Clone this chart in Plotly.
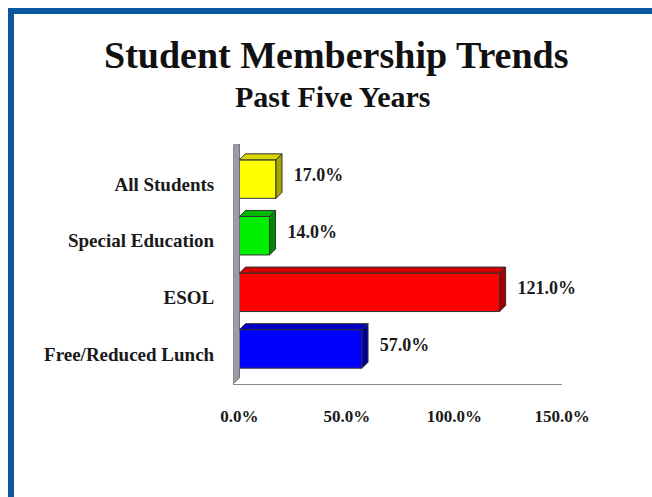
import plotly.graph_objects as go

# ---- data ----
categories = ["All Students", "Special Education", "ESOL", "Free/Reduced Lunch"]
values = [17.0, 14.0, 121.0, 57.0]
front_colors = ["#FFFF00", "#00EE00", "#FF0000", "#0000FF"]
top_colors = ["#D8D800", "#00B800", "#D00000", "#0000C8"]
side_colors = ["#A8A800", "#008800", "#A00000", "#000098"]
x_ticks = [0, 50, 100, 150]
x_tick_labels = ["0.0%", "50.0%", "100.0%", "150.0%"]

# ---- geometry (pixels) ----
W, H = 652, 497
L_PX, R_PX, T_PX, B_PX = 233, 562, 144, 384
X0, X1 = -3, 150
Y_BOTTOM, Y_TOP = 3.62, -0.62
px_per_x = (R_PX - L_PX) / (X1 - X0)
px_per_y = (B_PX - T_PX) / (Y_BOTTOM - Y_TOP)
DX = 6 / px_per_x       # depth offset in x units
DY = 6 / px_per_y       # depth offset in y units
HALF = 0.34
LABEL_SHIFT = 5 / px_per_y

def px2paper_x(px):
    return (px - L_PX) / (R_PX - L_PX)

def px2paper_y(py):
    return (B_PX - py) / (B_PX - T_PX)

font_family = "Liberation Serif, Times New Roman, serif"
ys = list(range(len(categories)))

fig = go.Figure()

# left wall (side view of the 3D wall)
fig.add_trace(go.Scatter(
    x=[-DX * 1.1, -DX * 1.1, 0, 0, -DX * 1.1],
    y=[Y_BOTTOM, Y_TOP + DY * 0.3, Y_TOP + DY * 0.3 - DY, Y_BOTTOM - DY, Y_BOTTOM],
    fill="toself", fillcolor="#9C9CA4", mode="lines",
    line=dict(color="#6E6E74", width=1), hoverinfo="skip", showlegend=False))

# bars: draw bottom-most first so upper ones overlap correctly
for i in reversed(range(len(categories))):
    v = values[i]
    y = ys[i]
    # top face
    fig.add_trace(go.Scatter(
        x=[0, v, v + DX, DX, 0],
        y=[y - HALF, y - HALF, y - HALF - DY, y - HALF - DY, y - HALF],
        fill="toself", fillcolor=top_colors[i], mode="lines",
        line=dict(color="#303030", width=1), hoverinfo="skip", showlegend=False))
    # side face
    fig.add_trace(go.Scatter(
        x=[v, v, v + DX, v + DX, v],
        y=[y - HALF, y + HALF, y + HALF - DY, y - HALF - DY, y - HALF],
        fill="toself", fillcolor=side_colors[i], mode="lines",
        line=dict(color="#303030", width=1), hoverinfo="skip", showlegend=False))

# front faces
fig.add_trace(go.Bar(
    x=values, y=ys, orientation="h", width=2 * HALF,
    marker=dict(color=front_colors, line=dict(color="#303030", width=1)),
    showlegend=False, hoverinfo="skip"))

# value labels
fig.add_trace(go.Scatter(
    x=[v + DX + 5.5 for v in values], y=[y - DY * 0.4 for y in ys],
    mode="text", text=[f"{v:.1f}%" for v in values], textposition="middle right",
    textfont=dict(family=font_family, size=18, color="#1a1a1a", weight="bold"),
    hoverinfo="skip", showlegend=False, cliponaxis=False))

fig.update_layout(
    width=W, height=H,
    margin=dict(l=L_PX, r=W - R_PX, t=T_PX, b=H - B_PX, pad=0),
    paper_bgcolor="white", plot_bgcolor="white",
    font=dict(family=font_family, color="#1a1a1a"),
    xaxis=dict(range=[X0, X1], tickvals=x_ticks, ticktext=x_tick_labels,
               showgrid=False, zeroline=False, showline=True, linecolor="#8a8a8a",
               linewidth=1, ticks="outside", ticklen=17, tickcolor="rgba(0,0,0,0)",
               tickfont=dict(family=font_family, size=17, color="#1a1a1a", weight="bold"),
               fixedrange=True),
    yaxis=dict(range=[Y_BOTTOM, Y_TOP], tickvals=[y + LABEL_SHIFT for y in ys],
               ticktext=categories,
               showgrid=False, zeroline=False, showline=False,
               ticks="outside", ticklen=14, tickcolor="rgba(0,0,0,0)",
               tickfont=dict(family=font_family, size=19, color="#1a1a1a", weight="bold"),
               fixedrange=True),
    bargap=0.3,
    annotations=[
        dict(text="<b>Student Membership Trends</b>", xref="paper", yref="paper",
             x=px2paper_x(336), y=px2paper_y(55), xanchor="center", yanchor="middle",
             showarrow=False, font=dict(family=font_family, size=38, color="#111111")),
        dict(text="<b>Past Five Years</b>", xref="paper", yref="paper",
             x=px2paper_x(333), y=px2paper_y(96), xanchor="center", yanchor="middle",
             showarrow=False, font=dict(family=font_family, size=30, color="#111111")),
    ],
    shapes=[
        dict(type="rect", xref="paper", yref="paper",
             x0=px2paper_x(8), x1=px2paper_x(W + 5), y0=px2paper_y(14), y1=px2paper_y(8),
             fillcolor="#0B56A0", line=dict(width=0), layer="above"),
        dict(type="rect", xref="paper", yref="paper",
             x0=px2paper_x(8), x1=px2paper_x(14), y0=px2paper_y(H + 5), y1=px2paper_y(8),
             fillcolor="#0B56A0", line=dict(width=0), layer="above"),
    ],
)

fig.write_html("out.html")
